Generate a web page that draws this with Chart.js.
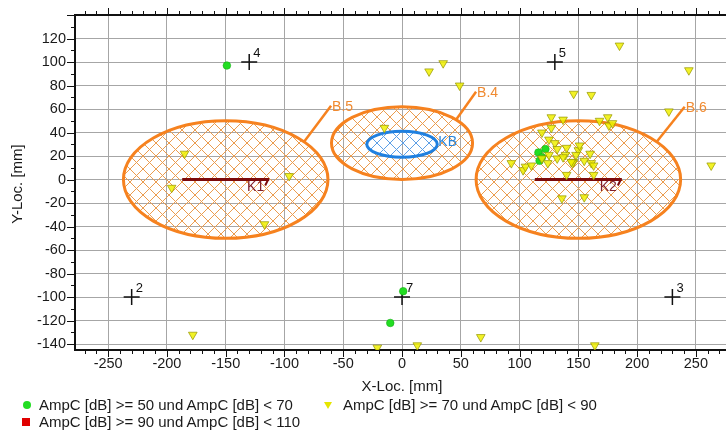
<!DOCTYPE html>
<html lang="de">
<head>
<meta charset="UTF-8">
<title>Ortung</title>
<script src="https://cdn.jsdelivr.net/npm/chart.js"></script>
<style>
    body {
        margin: 0;
        background: #fff;
        font-family: "Liberation Sans", Arial, sans-serif;
        color: #1a1a1a;
    }
    #wrap {
        position: relative;
        width: 726px;
        height: 431px;
        overflow: hidden;
    }
    #plot {
        position: absolute;
        left: 0;
        top: 0;
    }
    .txt {
        position: absolute;
        font-size: 15px;
        line-height: 16px;
        height: 16px;
        white-space: nowrap;
    }
    #yTitle {
        left: -83px;
        top: 176px;
        width: 200px;
        text-align: center;
        transform: rotate(-90deg);
    }
    #xTitle {
        left: 302px;
        top: 378px;
        width: 200px;
        text-align: center;
    }
    .mark {
        position: absolute;
    }
</style>
</head>
<body>
<div id="wrap">
    <canvas id="plot" width="726" height="431"></canvas>
    <div class="txt" id="yTitle">Y-Loc. [mm]</div>
    <div class="txt" id="xTitle">X-Loc. [mm]</div>

    <div class="mark" style="left:23px;top:401px;width:8px;height:8px;border-radius:50%;background:#22dd22;"></div>
    <div class="txt" style="left:39px;top:397px;">AmpC [dB] &gt;= 50 und AmpC [dB] &lt; 70</div>
    <div class="mark" style="left:324px;top:402px;width:0;height:0;border-left:4.5px solid transparent;border-right:4.5px solid transparent;border-top:7px solid #e6e600;"></div>
    <div class="txt" style="left:343px;top:397px;">AmpC [dB] &gt;= 70 und AmpC [dB] &lt; 90</div>
    <div class="mark" style="left:22px;top:418px;width:8px;height:8px;background:#e00000;"></div>
    <div class="txt" style="left:39px;top:414px;">AmpC [dB] &gt;= 90 und AmpC [dB] &lt; 110</div>
</div>

<script>
    // AmpC 50..70 dB (green circles)
    const greenX = [-149, 1, -10, 116, 117, 122, 119];
    const greenY = [97, -95, -122, 23, 16, 26, 19];

    // AmpC 70..90 dB (yellow triangles)
    const yellowX = [-185, -196, -96, -117, -178, -21, 13, 67, 164, -15,
        23, 35, 49, 185, 244, 146, 161, 227, 263,
        127, 137, 127, 168, 175, 176, 179, 119, 125, 130,
        93, 103, 105, 110, 124, 140, 163, 136, 155,
        161, 163, 155, 146, 150, 148, 140, 132, 139, 132, 125, 119, 145, 137, 151, 160, 144];
    const yellowY = [22, -7, 3, -38, -132, -143, -141, -134, -141, 44,
        92, 99, 80, 114, 93, 73, 72, 58, 12,
        53, 51, 44, 50, 53, 46, 48, 40, 34, 31,
        14, 8, 11, 12, 14, 4, 4, -16, -15,
        14, 12, 16, 15, 25, 21, 27, 26, 21, 18, 21, 18, 14, 19, 29, 22, 15];

    // AmpC 90..110 dB (red squares) - none in this view
    const redX = [];
    const redY = [];

    // sensor positions
    const crossLabels = ['2', '3', '4', '5', '7'];
    const crossX = [-230, 230, -130, 130, 0];
    const crossY = [-100, -100, 100, 100, -100];

    // evaluation zones (ellipses), mm
    const zoneNames = ['B.5', 'B.4', 'B.6', 'KB'];
    const zoneX = [-150, 0, 150, 0];
    const zoneY = [0, 31, 0, 30];
    const zoneRX = [87, 60, 87, 30];
    const zoneRY = [50, 31, 50, 11];

    // cable segments
    const cableNames = ['K1', 'K2'];
    const cableFromX = [-187, 113];
    const cableToX = [-113, 187];
    const cableY = [0, 0];

    const xTickLabels = [-250, -200, -150, -100, -50, 0, 50, 100, 150, 200, 250];
    const yTickLabels = [-140, -120, -100, -80, -60, -40, -20, 0, 20, 40, 60, 80, 100, 120];

    const X_MIN = -278.2, X_MAX = 275.6, Y_MIN = -145, Y_MAX = 140;
    const FONT = '"Liberation Sans", Arial, sans-serif';

    function pts(xs, ys) {
        return xs.map((x, i) => ({x: x, y: ys[i]}));
    }

    function range(a, b, step) {
        const out = [];
        for (let v = a; v <= b; v += step) out.push(v);
        return out;
    }

    function hatch(ctx, color, size) {
        const c = document.createElement('canvas');
        c.width = size;
        c.height = size;
        const g = c.getContext('2d');
        g.strokeStyle = color;
        g.lineWidth = 1;
        g.beginPath();
        for (let k = -size; k <= size; k += size) {
            g.moveTo(k, 0); g.lineTo(k + size, size);
            g.moveTo(k + size, 0); g.lineTo(k, size);
        }
        g.stroke();
        return ctx.createPattern(c, 'repeat');
    }

    // leader line offsets for the zone labels (px)
    const leaders = {'B.5': [27, -36], 'B.4': [20, -28], 'B.6': [28, -35]};

    const zonesPlugin = {
        id: 'zones',
        beforeDatasetsDraw(chart) {
            const {ctx, chartArea, scales: {x, y}} = chart;
            ctx.save();
            ctx.beginPath();
            ctx.rect(chartArea.left, chartArea.top, chartArea.width, chartArea.height);
            ctx.clip();
            zoneNames.forEach((name, i) => {
                const blue = name === 'KB';
                const cx = x.getPixelForValue(zoneX[i]);
                const cy = y.getPixelForValue(zoneY[i]);
                const rx = Math.abs(x.getPixelForValue(zoneX[i] + zoneRX[i]) - cx);
                const ry = Math.abs(y.getPixelForValue(zoneY[i] + zoneRY[i]) - cy);
                ctx.beginPath();
                ctx.ellipse(cx, cy, rx, ry, 0, 0, Math.PI * 2);
                ctx.fillStyle = hatch(ctx, blue ? '#5c9fe6' : '#eb9c4e', 13);
                ctx.fill();
                ctx.lineWidth = 3;
                ctx.strokeStyle = blue ? '#1f80e0' : '#f6821f';
                ctx.stroke();

                ctx.font = '14px ' + FONT;
                ctx.textBaseline = 'middle';
                ctx.textAlign = 'left';
                if (blue) {
                    ctx.fillStyle = '#2a86dc';
                    ctx.fillText(name, cx + rx + 1, cy - 2);
                } else {
                    const a = 40 * Math.PI / 180;
                    const sx = cx + rx * Math.cos(a), sy = cy - ry * Math.sin(a);
                    const [dx, dy] = leaders[name];
                    ctx.beginPath();
                    ctx.moveTo(sx, sy);
                    ctx.lineTo(sx + dx, sy + dy);
                    ctx.lineWidth = 2.5;
                    ctx.strokeStyle = '#f6821f';
                    ctx.stroke();
                    ctx.fillStyle = '#f08a30';
                    ctx.fillText(name, sx + dx + 1, sy + dy + 1);
                }
            });
            ctx.restore();
        },
        afterDatasetsDraw(chart) {
            const {ctx, scales: {x, y}} = chart;
            ctx.save();
            ctx.font = '14px ' + FONT;
            ctx.textBaseline = 'middle';
            // cable labels + end marks
            cableNames.forEach((name, i) => {
                const ex = x.getPixelForValue(cableToX[i]);
                const ey = y.getPixelForValue(cableY[i]);
                ctx.strokeStyle = '#7d0a0a';
                ctx.lineWidth = 2;
                ctx.beginPath();
                ctx.moveTo(ex - 1, ey);
                ctx.lineTo(ex - 4, ey + 6);
                ctx.stroke();
                ctx.fillStyle = '#80202c';
                ctx.textAlign = 'right';
                ctx.fillText(name, ex - 5, ey + 8);
            });
            // sensor numbers
            ctx.font = '13px ' + FONT;
            ctx.fillStyle = '#111';
            ctx.textAlign = 'left';
            crossLabels.forEach((lab, i) => {
                const px = x.getPixelForValue(crossX[i]);
                const py = y.getPixelForValue(crossY[i]);
                ctx.fillText(lab, px + 4, py - 9);
            });
            ctx.restore();
        },
        afterDraw(chart) {
            // major / minor tick marks on left, bottom and top axes
            const {ctx, chartArea: ca, scales: {x, y}} = chart;
            ctx.save();
            ctx.strokeStyle = '#111';
            ctx.lineWidth = 1;
            ctx.beginPath();
            range(-270, 270, 10).forEach(v => {
                const px = Math.round(x.getPixelForValue(v)) + 0.5;
                const len = v % 50 === 0 ? 7 : 4;
                ctx.moveTo(px, ca.bottom); ctx.lineTo(px, ca.bottom + len);
                ctx.moveTo(px, ca.top); ctx.lineTo(px, ca.top - len);
            });
            range(-140, 140, 10).forEach(v => {
                const py = Math.round(y.getPixelForValue(v)) + 0.5;
                const len = v % 20 === 0 ? 8 : 4;
                ctx.moveTo(ca.left, py); ctx.lineTo(ca.left - len, py);
            });
            ctx.stroke();
            ctx.restore();
        }
    };

    const gridColor = step => c => (c.tick && c.tick.value % step === 0) ? '#a6a6a6' : 'rgba(0,0,0,0)';

    Chart.defaults.font.family = FONT;
    Chart.defaults.font.size = 14.5;
    Chart.defaults.color = '#1a1a1a';

    const cableSets = cableNames.map((name, i) => ({
        type: 'line',
        label: name,
        data: [{x: cableFromX[i], y: cableY[i]}, {x: cableToX[i], y: cableY[i]}],
        borderColor: '#7d0a0a',
        borderWidth: 3,
        pointRadius: 0,
        order: 5
    }));

    new Chart(document.getElementById('plot'), {
        type: 'scatter',
        data: {
            datasets: [
                {
                    label: 'AmpC [dB] >= 50 und AmpC [dB] < 70',
                    data: pts(greenX, greenY),
                    pointStyle: 'circle',
                    pointRadius: 3.8,
                    backgroundColor: '#22dd22',
                    borderColor: '#18b018',
                    borderWidth: 0.6,
                    order: 2
                },
                {
                    label: 'AmpC [dB] >= 70 und AmpC [dB] < 90',
                    data: pts(yellowX, yellowY),
                    pointStyle: 'triangle',
                    rotation: 180,
                    pointRadius: 5,
                    backgroundColor: 'rgba(240,240,0,0.85)',
                    borderColor: 'rgba(150,150,0,0.9)',
                    borderWidth: 0.8,
                    order: 1
                },
                {
                    label: 'AmpC [dB] >= 90 und AmpC [dB] < 110',
                    data: pts(redX, redY),
                    pointStyle: 'rect',
                    pointRadius: 4,
                    backgroundColor: '#e00000',
                    order: 3
                },
                {
                    label: 'Sensoren',
                    data: pts(crossX, crossY),
                    pointStyle: 'cross',
                    pointRadius: 8,
                    borderColor: '#111',
                    borderWidth: 1.5,
                    order: 4
                },
                ...cableSets
            ]
        },
        options: {
            responsive: false,
            animation: false,
            events: [],
            layout: {padding: 0, autoPadding: false},
            plugins: {legend: {display: false}, tooltip: {enabled: false}},
            scales: {
                x: {
                    type: 'linear',
                    position: 'bottom',
                    min: X_MIN,
                    max: X_MAX,
                    afterBuildTicks: s => { s.ticks = range(-270, 270, 10).map(v => ({value: v})); },
                    afterFit: s => { s.height = 81; s.paddingLeft = 0; s.paddingRight = 0; },
                    ticks: {
                        autoSkip: false,
                        maxRotation: 0,
                        minRotation: 0,
                        padding: 5,
                        callback: v => xTickLabels.includes(v) ? String(v) : ''
                    },
                    grid: {color: gridColor(50), drawTicks: false, lineWidth: 1},
                    border: {color: '#111', width: 2}
                },
                x2: {
                    type: 'linear',
                    position: 'top',
                    min: X_MIN,
                    max: X_MAX,
                    afterFit: s => { s.height = 15; s.paddingLeft = 0; s.paddingRight = 0; },
                    ticks: {display: false},
                    grid: {display: false},
                    border: {display: true, color: '#111', width: 2}
                },
                y: {
                    type: 'linear',
                    min: Y_MIN,
                    max: Y_MAX,
                    afterBuildTicks: s => { s.ticks = range(-140, 140, 10).map(v => ({value: v})); },
                    afterFit: s => { s.width = 75; s.paddingTop = 0; s.paddingBottom = 0; },
                    ticks: {
                        autoSkip: false,
                        padding: 9,
                        callback: v => yTickLabels.includes(v) ? String(v) : ''
                    },
                    grid: {color: gridColor(20), drawTicks: false, lineWidth: 1},
                    border: {color: '#111', width: 2}
                }
            }
        },
        plugins: [zonesPlugin]
    });
</script>
</body>
</html>
